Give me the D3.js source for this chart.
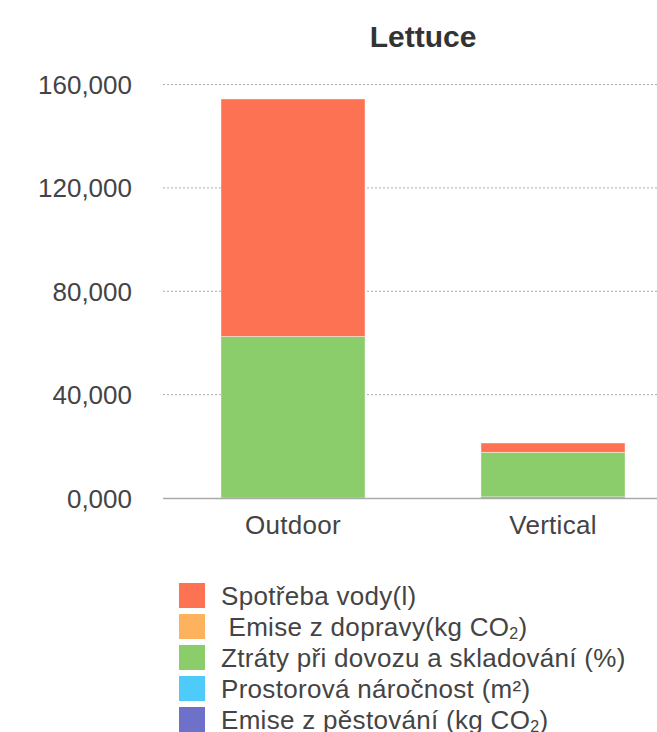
<!DOCTYPE html>
<html>
<head>
<meta charset="utf-8">
<script src="https://cdn.jsdelivr.net/npm/d3@7"></script>
<style>
  body { margin: 0; background: #fff; }
  svg { display: block; font-family: "Liberation Sans", Arial, sans-serif; }
</style>
</head>
<body>
<svg id="chart" width="657" height="732"></svg>
<script>
const categories = ["Outdoor", "Vertical"];
// stacked bottom -> top
const seriesKeys = ["pestovani", "prostor", "ztraty", "doprava", "voda"];
const pestovani = [0, 450];
const prostor = [0, 0];
const ztraty = [62500, 17230];
const doprava = [0, 0];
const voda = [91900, 3600];
const yTicks = [0, 40000, 80000, 120000, 160000];
const colors = ["#6d72c8", "#4ecbf9", "#8acd6a", "#fdb35e", "#fe7254"];
// legend, top -> bottom
const legendItems = [
  { key: "voda", parts: [["Spotřeba vody(l)"]] },
  { key: "doprava", parts: [[" Emise z dopravy(kg CO"], ["2", "sub"], [")"]] },
  { key: "ztraty", parts: [["Ztráty při dovozu a skladování (%)"]] },
  { key: "prostor", parts: [["Prostorová náročnost (m²)"]] },
  { key: "pestovani", parts: [["Emise z pěstování (kg CO"], ["2", "sub"], [")"]] }
];

const seriesVals = { pestovani, prostor, ztraty, doprava, voda };
const table = categories.map(function(c, i) {
  const row = { cat: c };
  seriesKeys.forEach(function(k) { row[k] = seriesVals[k][i]; });
  return row;
});

const svg = d3.select("#chart");
const x0 = 163, x1 = 683, yBase = 498, yTop = 84.5;

const xScale = d3.scaleBand().domain(categories).range([x0, x1]).paddingInner(0.446).paddingOuter(0.223);
const yScale = d3.scaleLinear().domain([0, 160000]).range([yBase, yTop]);
const color = d3.scaleOrdinal().domain(seriesKeys).range(colors);

// title
svg.append("text")
  .attr("x", (x0 + x1) / 2)
  .attr("y", 47)
  .attr("text-anchor", "middle")
  .attr("font-size", "30px")
  .attr("font-weight", "bold")
  .attr("fill", "#333")
  .text("Lettuce");

// gridlines
svg.append("g")
  .selectAll("line")
  .data(yTicks.filter(function(d) { return d > 0; }))
  .enter().append("line")
  .attr("x1", x0).attr("x2", 657)
  .attr("y1", function(d) { return yScale(d); })
  .attr("y2", function(d) { return yScale(d); })
  .attr("stroke", "#aaa")
  .attr("stroke-width", 1)
  .attr("stroke-dasharray", "2,2");

// y axis labels
const yAxis = d3.axisLeft(yScale)
  .tickValues(yTicks)
  .tickSize(0)
  .tickPadding(0)
  .tickFormat(function(d) { return d === 0 ? "0,000" : d3.format(",")(d / 1000) + ",000"; });
const yg = svg.append("g").attr("transform", "translate(132,0)").call(yAxis);
yg.select(".domain").remove();
yg.selectAll("text")
  .attr("font-size", "26px")
  .attr("font-family", "Liberation Sans, Arial, sans-serif")
  .attr("fill", "#444")
  .attr("dy", "0.35em");

// bars
const stacked = d3.stack().keys(seriesKeys)(table);
svg.append("g")
  .selectAll("g")
  .data(stacked)
  .enter().append("g")
  .attr("fill", function(d) { return color(d.key); })
  .selectAll("rect")
  .data(function(d) { return d; })
  .enter().append("rect")
  .attr("x", function(d) { return xScale(d.data.cat); })
  .attr("width", xScale.bandwidth())
  .attr("y", function(d) { return yScale(d[1]); })
  .attr("height", function(d) { return Math.max(0, yScale(d[0]) - yScale(d[1])); })
  .attr("stroke", "rgba(255,255,255,0.5)")
  .attr("stroke-width", 0.8);

// baseline
svg.append("line")
  .attr("x1", x0).attr("x2", 657)
  .attr("y1", yBase + 0.5).attr("y2", yBase + 0.5)
  .attr("stroke", "#aaa")
  .attr("stroke-width", 1.5);

// x axis labels
const xAxis = d3.axisBottom(xScale).tickSize(0).tickPadding(0);
const xg = svg.append("g").attr("transform", "translate(0,534)").call(xAxis);
xg.select(".domain").remove();
xg.selectAll("text")
  .attr("font-size", "26px")
  .attr("font-family", "Liberation Sans, Arial, sans-serif")
  .attr("fill", "#444")
  .attr("letter-spacing", "0.3px")
  .attr("dy", 0);

// legend
const legend = svg.append("g")
  .selectAll("g")
  .data(legendItems)
  .enter().append("g")
  .attr("transform", function(d, i) { return "translate(179," + (583 + i * 31) + ")"; });

legend.append("rect")
  .attr("width", 26)
  .attr("height", 25)
  .attr("fill", function(d) { return color(d.key); });

const lt = legend.append("text")
  .attr("x", 42)
  .attr("y", 22)
  .attr("font-size", "26px")
  .attr("letter-spacing", "0.3px")
  .attr("fill", "#444")
  .attr("xml:space", "preserve")
  .style("white-space", "pre");

lt.each(function(d) {
  const t = d3.select(this);
  d.parts.forEach(function(p) {
    const s = t.append("tspan").text(p[0]);
    if (p[1] === "sub") {
      s.attr("font-size", "16px").attr("dy", 3);
    } else if (t.selectAll("tspan").size() > 1) {
      s.attr("dy", -3);
    }
  });
});
</script>
</body>
</html>
